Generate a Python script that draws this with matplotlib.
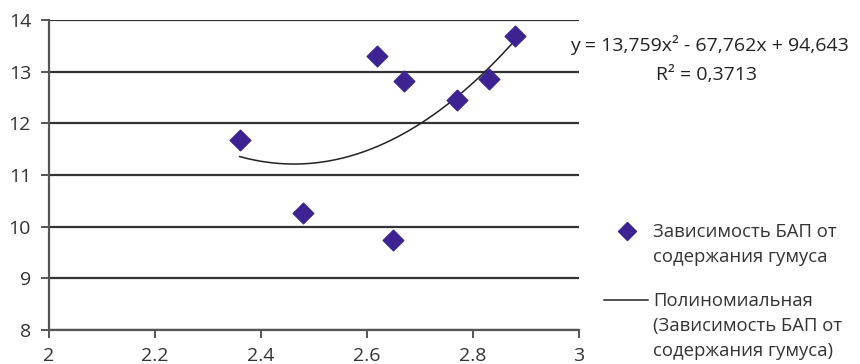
import numpy as np
import matplotlib.pyplot as plt
from matplotlib.lines import Line2D

# Данные: содержание гумуса (x) и БАП (y)
humus = [2.36, 2.48, 2.62, 2.67, 2.65, 2.77, 2.83, 2.88]
bap = [11.68, 10.27, 13.30, 12.82, 9.75, 12.45, 12.86, 13.70]

# Коэффициенты полиномиального тренда (из подписи на графике)
coef = [13.759, -67.762, 94.643]
r2_text = "R² = 0,3713"
eq_text = "y = 13,759x² - 67,762x + 94,643"

x_ticks = [2, 2.2, 2.4, 2.6, 2.8, 3]
x_labels = ["2", "2.2", "2.4", "2.6", "2.8", "3"]
y_ticks = [8, 9, 10, 11, 12, 13, 14]

leg_scatter = ["Зависимость БАП от", "содержания гумуса"]
leg_trend = ["Полиномиальная", "(Зависимость БАП от", "содержания гумуса)"]

point_color = '#3d2392'

plt.rcParams['font.family'] = ['Open Sans', 'DejaVu Sans']

fig = plt.figure(figsize=(8.6, 3.64), dpi=100)
ax = fig.add_axes([0.057, 0.0934, 0.616, 0.8516])

# Линия тренда
xs = np.linspace(min(humus), max(humus), 200)
ax.plot(xs, np.polyval(coef, xs), color='#222222', lw=1.1, zorder=3)

ax.scatter(humus, bap, marker='D', s=110, color=point_color, zorder=4)

ax.set_xlim(2, 3)
ax.set_ylim(8, 14)
ax.set_xticks(x_ticks, x_labels)
ax.set_yticks(y_ticks)
ax.yaxis.grid(True, color='#333333', lw=1.6)
ax.set_axisbelow(True)

for s in ['top', 'right']:
    ax.spines[s].set_visible(False)
for s in ['left', 'bottom']:
    ax.spines[s].set_color('#555555')
    ax.spines[s].set_linewidth(1.6)

ax.tick_params(axis='both', labelsize=14, colors='#555555', labelcolor='#333333',
               length=6, width=1.4)
ax.tick_params(axis='x', pad=6)
ax.tick_params(axis='y', pad=7)

# Уравнение и R²
fig.text(0.825, 0.876, eq_text, ha='center', va='center', fontsize=14, color='#222222')
fig.text(0.8215, 0.794, r2_text, ha='center', va='center', fontsize=14, color='#222222')

# Легенда (вручную, маркер выровнен по первой строке подписи)
H = 364.0
def fy(py):
    return 1 - py / H

fig.add_artist(Line2D([627 / 860], [fy(231)], transform=fig.transFigure,
                      marker='D', markersize=9, color=point_color, lw=0))
fig.add_artist(Line2D([604 / 860, 648 / 860], [fy(300), fy(300)],
                      transform=fig.transFigure, color='#222222', lw=1.1))
for i, line in enumerate(leg_scatter):
    fig.text(653 / 860, fy(237 + 25.5 * i), line, ha='left', va='baseline',
             fontsize=13.3, color='#333333')
for i, line in enumerate(leg_trend):
    fig.text(653 / 860, fy(306 + 25 * i), line, ha='left', va='baseline',
             fontsize=13.3, color='#333333')

fig.savefig('out.png', dpi=100)
